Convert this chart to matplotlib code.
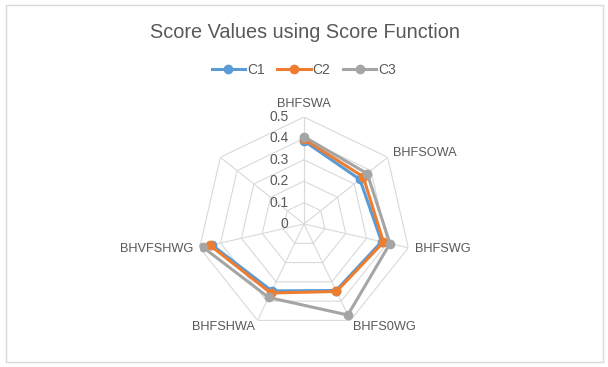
import numpy as np
import matplotlib.pyplot as plt
from matplotlib.patches import Rectangle

# categories (last one is blank in the source sheet)
categories = ['BHFSWA', 'BHFSOWA', 'BHFSWG', 'BHFS0WG', 'BHFSHWA', 'BHVFSHWG', '']
c1 = [0.388, 0.334, 0.372, 0.345, 0.347, 0.441, np.nan]
c2 = [0.397, 0.354, 0.381, 0.350, 0.358, 0.450, np.nan]
c3 = [0.408, 0.378, 0.412, 0.472, 0.381, 0.485, np.nan]
ticks = [0, 0.1, 0.2, 0.3, 0.4, 0.5]

series = [('C1', c1, '#5B9BD5'), ('C2', c2, '#ED7D31'), ('C3', c3, '#A5A5A5')]
text_col = '#595959'
grid_col = '#D9D9D9'

plt.rcParams['font.family'] = ['Liberation Sans', 'DejaVu Sans']

W, H = 608, 367
fig = plt.figure(figsize=(W / 100, H / 100), dpi=100)

# chart border
fig.patches.append(Rectangle((6 / W, 5 / H), 597 / W, 357 / H, transform=fig.transFigure,
                             fill=False, edgecolor=grid_col, linewidth=1))

# polar axes centred at (304, 224) px, radius 107 px
cx, cy, R = 304, 224, 107
ax = fig.add_axes([(cx - R) / W, (H - cy - R) / H, 2 * R / W, 2 * R / H], projection='polar')
ax.set_theta_zero_location('N')
ax.set_theta_direction(-1)
ax.set_ylim(0, 0.5)
ax.grid(False)
ax.spines['polar'].set_visible(False)
ax.set_xticks([])
ax.set_yticks([])
ax.patch.set_alpha(0)

n = len(categories)
angles = np.arange(n) * 2 * np.pi / n
closed = np.append(angles, angles[0])

# heptagon grid and spokes
for t in ticks[1:]:
    ax.plot(closed, [t] * (n + 1), color=grid_col, lw=0.8, zorder=1)
for a in angles:
    ax.plot([a, a], [0, 0.5], color=grid_col, lw=0.8, zorder=1)

# radial tick labels
for t in ticks:
    ax.annotate('%g' % t, xy=(0, t), xytext=(-11, 0), textcoords='offset points',
                ha='right', va='center', fontsize=10, color=text_col)

# category labels
for a, lab in zip(angles, categories):
    s, c = np.sin(a), np.cos(a)
    if abs(s) < 1e-6:
        ha, va = 'center', 'bottom'
    else:
        ha, va = ('left', 'center') if s > 0 else ('right', 'center')
    ax.annotate(lab, xy=(a, 0.5), xytext=(5 * s, 5 * c), textcoords='offset points',
                ha=ha, va=va, fontsize=9.2, color=text_col)

for name, vals, col in series:
    ax.plot(angles, vals, color=col, lw=2.2, marker='o', markersize=6, label=name, zorder=3)

fig.text(cx / W + 0.002, 1 - 32 / H, 'Score Values using Score Function', ha='center', va='center',
         fontsize=14.3, color=text_col)

leg = fig.legend(loc='center', bbox_to_anchor=(cx / W, 1 - 70 / H), ncol=3, frameon=False,
                 fontsize=10, handlelength=2.4, columnspacing=0.9, handletextpad=0.15)
for t in leg.get_texts():
    t.set_color(text_col)

fig.savefig('out.png', dpi=100)
